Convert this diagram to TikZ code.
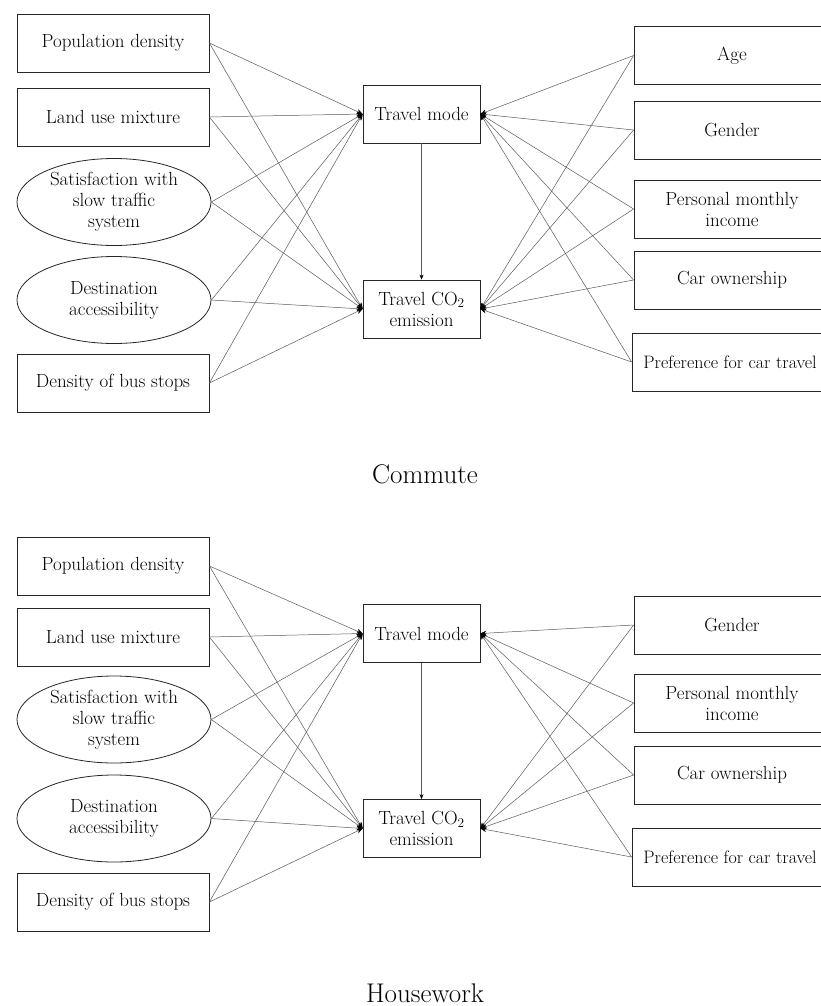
\documentclass[tikz,border=0pt]{standalone}
\usepackage{tikz}
\usetikzlibrary{shapes.geometric,arrows.meta}

\tikzset{
	varbox/.style={draw=black!85, line width=0.8pt, rectangle, minimum width=192pt, minimum height=58pt, inner sep=0pt, align=center, font=\fontsize{19}{21}\selectfont},
	varoval/.style={varbox, ellipse, minimum width=194pt, minimum height=87pt},
	midbox/.style={varbox, minimum width=117pt},
	rightbox/.style={varbox, minimum width=196pt},
	longbox/.style={rightbox, font=\fontsize{18}{21}\selectfont},
	link/.style={-{Stealth[length=6pt,width=5pt,color=black]}, draw=black!65, line width=0.5pt},
	downlink/.style={-{Stealth[length=5pt,width=4pt,color=black]}, draw=black!65, line width=0.5pt},
	caption/.style={anchor=base, font=\fontsize{27}{31}\selectfont}
}

\begin{document}
\begin{tikzpicture}[x=1pt, y=-1pt]
	\useasboundingbox (0,0) rectangle (821,1006);
	\clip (0,0) rectangle (821,1006);

	% Commute
	\node[varbox] (PopA)at(113, 43) {Population density};
	\node[varbox] (LandA)at(113, 117) {Land use mixture};
	\node[varoval] (SatA)at(114, 202) {Satisfaction with\\slow traffic\\system};
	\node[varoval] (DestA)at(114, 300) {Destination\\accessibility};
	\node[varbox] (BusA)at(113, 383) {Density of bus stops};
	\node[midbox] (ModeA)at(421.5, 114) {Travel mode};
	\node[midbox] (EmisA)at(421.5, 309) {Travel CO\textsubscript{2}\\emission};
	\node[rightbox] (AgeA)at(732, 55.5) {Age};
	\node[rightbox] (GenderA)at(732, 130) {Gender};
	\node[rightbox] (IncomeA)at(732, 209) {Personal monthly\\income};
	\node[rightbox] (CarA)at(732, 280) {Car ownership};
	\node[longbox] (PrefA)at(730, 362) {Preference for car travel};
	\node[caption] (CapA)at(425, 483) {Commute};

	\draw[link] (PopA.east) -- (ModeA.west);
	\draw[link] (PopA.east) -- (EmisA.west);
	\draw[link] (LandA.east) -- (ModeA.west);
	\draw[link] (LandA.east) -- (EmisA.west);
	\draw[link] (SatA.east) -- (ModeA.west);
	\draw[link] (SatA.east) -- (EmisA.west);
	\draw[link] (DestA.east) -- (ModeA.west);
	\draw[link] (DestA.east) -- (EmisA.west);
	\draw[link] (BusA.east) -- (ModeA.west);
	\draw[link] (BusA.east) -- (EmisA.west);
	\draw[link] (AgeA.west) -- (ModeA.east);
	\draw[link] (AgeA.west) -- (EmisA.east);
	\draw[link] (GenderA.west) -- (ModeA.east);
	\draw[link] (GenderA.west) -- (EmisA.east);
	\draw[link] (IncomeA.west) -- (ModeA.east);
	\draw[link] (IncomeA.west) -- (EmisA.east);
	\draw[link] (CarA.west) -- (ModeA.east);
	\draw[link] (CarA.west) -- (EmisA.east);
	\draw[link] (PrefA.west) -- (ModeA.east);
	\draw[link] (PrefA.west) -- (EmisA.east);
	\draw[downlink] (ModeA) -- (EmisA);

	% Housework
	\node[varbox] (PopB)at(113, 566) {Population density};
	\node[varbox] (LandB)at(113, 637) {Land use mixture};
	\node[varoval] (SatB)at(114, 719.5) {Satisfaction with\\slow traffic\\system};
	\node[varoval] (DestB)at(114, 818.5) {Destination\\accessibility};
	\node[varbox] (BusB)at(113, 902) {Density of bus stops};
	\node[midbox] (ModeB)at(421.5, 633.5) {Travel mode};
	\node[midbox] (EmisB)at(421.5, 828.5) {Travel CO\textsubscript{2}\\emission};
	\node[rightbox] (GenderB)at(732, 625) {Gender};
	\node[rightbox] (IncomeB)at(732, 703) {Personal monthly\\income};
	\node[rightbox] (CarB)at(732, 775) {Car ownership};
	\node[longbox] (PrefB)at(730, 857) {Preference for car travel};
	\node[caption] (CapB)at(425, 1002) {Housework};

	\draw[link] (PopB.east) -- (ModeB.west);
	\draw[link] (PopB.east) -- (EmisB.west);
	\draw[link] (LandB.east) -- (ModeB.west);
	\draw[link] (LandB.east) -- (EmisB.west);
	\draw[link] (SatB.east) -- (ModeB.west);
	\draw[link] (SatB.east) -- (EmisB.west);
	\draw[link] (DestB.east) -- (ModeB.west);
	\draw[link] (DestB.east) -- (EmisB.west);
	\draw[link] (BusB.east) -- (ModeB.west);
	\draw[link] (BusB.east) -- (EmisB.west);
	\draw[link] (GenderB.west) -- (ModeB.east);
	\draw[link] (GenderB.west) -- (EmisB.east);
	\draw[link] (IncomeB.west) -- (ModeB.east);
	\draw[link] (IncomeB.west) -- (EmisB.east);
	\draw[link] (CarB.west) -- (ModeB.east);
	\draw[link] (CarB.west) -- (EmisB.east);
	\draw[link] (PrefB.west) -- (ModeB.east);
	\draw[link] (PrefB.west) -- (EmisB.east);
	\draw[downlink] (ModeB) -- (EmisB);
\end{tikzpicture}
\end{document}
